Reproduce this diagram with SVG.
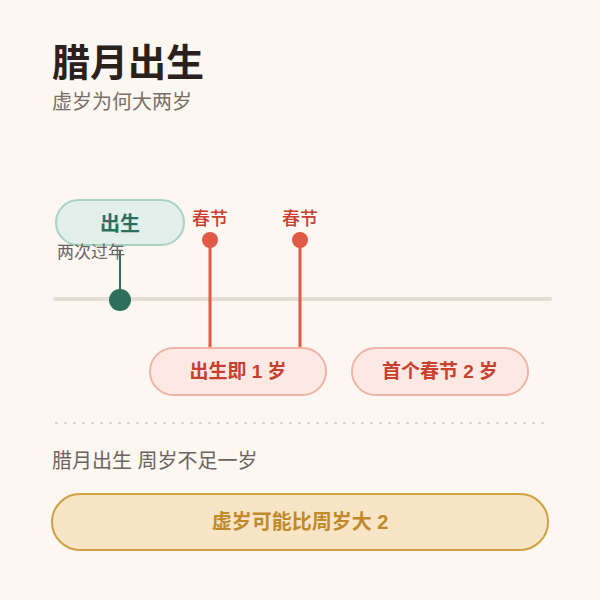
<svg xmlns="http://www.w3.org/2000/svg" width="600" height="600" viewBox="0 0 600 600">
<style>
text{font-family:"Liberation Sans","Noto Sans CJK SC",sans-serif}
.red{stroke:#e05a47;stroke-width:3}
.pill{fill:#fde9e4;stroke:#f0b3a7;stroke-width:2}
.pt{font-size:19px;font-weight:bold;fill:#c9402f;text-anchor:middle}
.cj{font-size:18px;font-weight:500;fill:#c9402f;text-anchor:middle}
</style>
<rect width="600" height="600" fill="#fdf7f2"/>
<text x="52" y="76" font-size="38" font-weight="bold" fill="#2a211c">腊月出生</text>
<text x="52" y="109" font-size="20" fill="#7a6e66">虚岁为何大两岁</text>
<g id="connectors">
<line x1="55" y1="299" x2="550" y2="299" stroke="#e5dcd4" stroke-width="4" stroke-linecap="round"/>
<line x1="120" y1="250" x2="120" y2="299" stroke="#2e6e5c" stroke-width="2"/>
<line class="red" x1="210" y1="240" x2="210" y2="350"/>
<line class="red" x1="300" y1="240" x2="300" y2="350"/>
</g>
<g id="birth"><rect x="56" y="200" width="128" height="45" rx="22.5" fill="#e3efea" stroke="#a8d3c3" stroke-width="2"/>
<text x="120" y="231" font-size="20" font-weight="bold" fill="#2e6e5c" text-anchor="middle">出生</text>
<text x="57" y="258" font-size="17" fill="#6b635d">两次过年</text>
<circle cx="120" cy="300" r="11" fill="#2e6e5c"/></g>
<g id="cj1"><text class="cj" x="210" y="225">春节</text><circle cx="210" cy="240" r="8" fill="#e05a47"/></g>
<g id="cj2"><text class="cj" x="300" y="225">春节</text><circle cx="300" cy="240" r="8" fill="#e05a47"/></g>
<g id="p1"><rect class="pill" x="150" y="348" width="176" height="47" rx="23.5"/><text class="pt" x="238" y="378">出生即 1 岁</text></g>
<g id="p2"><rect class="pill" x="352" y="348" width="176" height="47" rx="23.5"/><text class="pt" x="440" y="378">首个春节 2 岁</text></g>
<line x1="55" y1="423" x2="545" y2="423" stroke="#ddd3cb" stroke-width="2" stroke-dasharray="3 6"/>
<text x="52" y="468" font-size="20" fill="#6b635d">腊月出生 周岁不足一岁</text>
<g id="result"><rect x="52" y="494" width="496" height="56" rx="28" fill="#f8e5c6" stroke="#d0a044" stroke-width="2"/>
<text x="300" y="529" font-size="20" font-weight="bold" fill="#c08a2c" text-anchor="middle">虚岁可能比周岁大 2</text></g>
</svg>
